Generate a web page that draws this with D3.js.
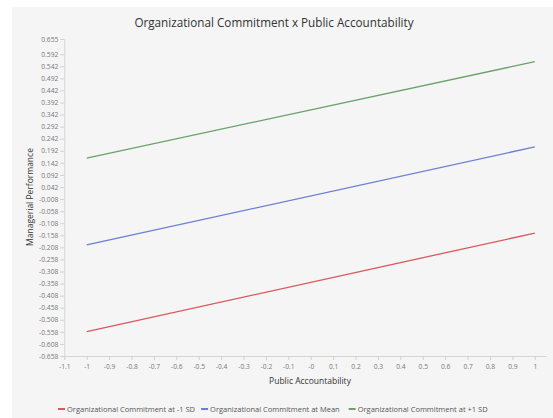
<!DOCTYPE html>
<html>
<head>
<meta charset="utf-8">
<script src="https://cdn.jsdelivr.net/npm/d3@7"></script>
<style>
html,body{margin:0;padding:0;background:#fff;}
svg{display:block;font-family:"Open Sans","Noto Sans",sans-serif;}
</style>
</head>
<body>
<svg id="c" width="553" height="418"></svg>
<script>
const title = "Organizational Commitment x Public Accountability";
const xLabel = "Public Accountability";
const yLabel = "Managerial Performance";
const xLevels = [-1, 1];
const legendNames = ["Organizational Commitment at -1 SD", "Organizational Commitment at Mean", "Organizational Commitment at +1 SD"];
const seriesColors = ["#d9585e", "#6b7fd0", "#6aa16a"];
const lowSD = [-0.557, -0.149];
const meanVals = [-0.198, 0.208];
const highSD = [0.162, 0.561];
const xTicks = [-1.1,-1,-0.9,-0.8,-0.7,-0.6,-0.5,-0.4,-0.3,-0.2,-0.1,0,0.1,0.2,0.3,0.4,0.5,0.6,0.7,0.8,0.9,1];
const xTickLabels = ["-1.1","-1","-0.9","-0.8","-0.7","-0.6","-0.5","-0.4","-0.3","-0.2","-0.1","-0","0.1","0.2","0.3","0.4","0.5","0.6","0.7","0.8","0.9","1"];
const yTicks = [0.655,0.592,0.542,0.492,0.442,0.392,0.342,0.292,0.242,0.192,0.142,0.092,0.042,-0.008,-0.058,-0.108,-0.158,-0.208,-0.258,-0.308,-0.358,-0.408,-0.458,-0.508,-0.558,-0.608,-0.658];
const yTickLabels = ["0.655","0.592","0.542","0.492","0.442","0.392","0.342","0.292","0.242","0.192","0.142","0.092","0.042","-0.008","-0.058","-0.108","-0.158","-0.208","-0.258","-0.308","-0.358","-0.408","-0.458","-0.508","-0.558","-0.608","-0.658"];

const svg = d3.select("#c");
svg.append("rect").attr("x",12).attr("y",7).attr("width",541).attr("height",411).attr("fill","#f5f5f5");

const x = d3.scaleLinear().domain([-1.1, 1.05]).range([64.3, 546]);
const y = d3.scaleLinear().domain([-0.658, 0.655]).range([356, 39]);

svg.append("text").attr("x",274).attr("y",27).attr("text-anchor","middle")
  .attr("font-size",11.7).attr("fill","#333").text(title);

const xAxis = svg.append("g").attr("transform","translate(0,356)")
  .call(d3.axisBottom(x).tickValues(xTicks).tickFormat((d,i)=>xTickLabels[i]).tickSize(4).tickPadding(4).tickSizeOuter(0));
const yAxis = svg.append("g").attr("transform","translate(64.3,0)")
  .call(d3.axisLeft(y).tickValues(yTicks).tickFormat((d,i)=>yTickLabels[i]).tickSize(4).tickPadding(2).tickSizeOuter(0));
[xAxis,yAxis].forEach(g=>{
  g.select(".domain").attr("stroke","#d6d6d6");
  g.selectAll(".tick line").attr("stroke","#cfcfcf");
  g.selectAll(".tick text").attr("fill","#777").attr("font-size",6.7).attr("font-family","'Open Sans',sans-serif");
});

svg.append("text").attr("x",310).attr("y",384).attr("text-anchor","middle")
  .attr("font-size",8.5).attr("fill","#333").text(xLabel);
svg.append("text").attr("transform","translate(33,197) rotate(-90)").attr("text-anchor","middle")
  .attr("font-size",8.5).attr("fill","#333").text(yLabel);

const allSeries = [lowSD, meanVals, highSD];
const line = d3.line().x((d,i)=>x(xLevels[i])).y(d=>y(d));
allSeries.forEach((s,k)=>{
  svg.append("path").datum(s).attr("d",line).attr("fill","none")
    .attr("stroke",seriesColors[k]).attr("stroke-width",1.3);
});

// legend
const lg = svg.append("g").attr("font-size",7.5);
let lx = 58;
const legendGap = [0, 4, 7];
legendNames.forEach((n,k)=>{
  lx += legendGap[k];
  lg.append("line").attr("x1",lx).attr("x2",lx+7).attr("y1",409).attr("y2",409)
    .attr("stroke",seriesColors[k]).attr("stroke-width",2);
  const t = lg.append("text").attr("x",lx+9).attr("y",412).attr("fill","#555").text(n);
  lx += 9 + t.node().getComputedTextLength() + 2;
});
</script>
</body>
</html>
